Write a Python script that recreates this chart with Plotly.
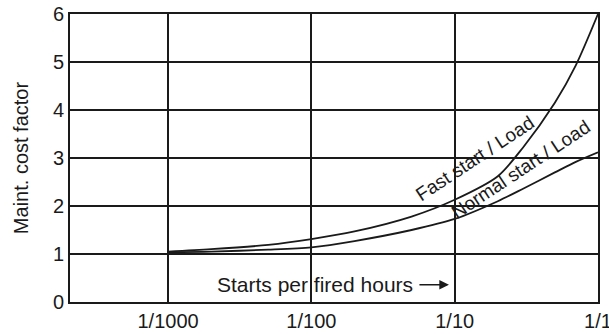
import plotly.graph_objects as go

# Data
starts_per_hour = [0.001, 0.002, 0.005, 0.01, 0.02, 0.05, 0.1, 0.2, 0.3, 0.5, 0.7, 1.0]
fast_start = [1.05, 1.10, 1.19, 1.31, 1.47, 1.78, 2.13, 2.62, 3.22, 4.15, 4.93, 6.0]
normal_start = [1.04, 1.05, 1.09, 1.14, 1.27, 1.50, 1.73, 2.10, 2.36, 2.70, 2.92, 3.12]

x_tickvals = [0.001, 0.01, 0.1, 1]
x_ticktext = ["1/1000", "1/100", "1/10", "1/1"]
y_tickvals = [0, 1, 2, 3, 4, 5, 6]

fast_label = "Fast start / Load"
normal_label = "Normal start / Load"
x_title = "Starts per fired hours"
y_title = "Maint. cost factor"

FONT = "Liberation Sans, Arial, sans-serif"
INK = "#1a1a1a"

fig = go.Figure()
fig.add_trace(go.Scatter(x=starts_per_hour, y=fast_start, mode="lines",
                         line=dict(color=INK, width=1.8, shape="spline", smoothing=0.8),
                         name=fast_label, showlegend=False))
fig.add_trace(go.Scatter(x=starts_per_hour, y=normal_start, mode="lines",
                         line=dict(color=INK, width=1.8, shape="spline", smoothing=0.8),
                         name=normal_label, showlegend=False))

fig.add_annotation(x=-0.86, y=3.0, xref="x", yref="y", text=fast_label, showarrow=False,
                   textangle=-33.5, font=dict(family=FONT, size=19, color=INK))
fig.add_annotation(x=-0.54, y=2.76, xref="x", yref="y", text=normal_label, showarrow=False,
                   textangle=-33.5, font=dict(family=FONT, size=19, color=INK))
fig.add_annotation(x=-1.28, y=0.36, xref="x", yref="y", text=x_title, showarrow=False,
                   xanchor="right", font=dict(family=FONT, size=21, color=INK))
fig.add_annotation(x=-1.04, y=0.36, xref="x", yref="y", ax=-31, ay=0, axref="pixel", ayref="pixel",
                   text="", showarrow=True, arrowhead=2, arrowsize=1.2, arrowwidth=1.6,
                   arrowcolor=INK)

fig.update_xaxes(type="log", range=[-3.684, 0], tickvals=x_tickvals, ticktext=x_ticktext,
                 showgrid=True, gridcolor=INK, gridwidth=1.6,
                 showline=True, linecolor=INK, linewidth=2, mirror=True,
                 ticks="", zeroline=False, automargin=False, ticklabeloverflow="allow",
                 tickfont=dict(family=FONT, size=20, color=INK))
fig.update_yaxes(range=[0, 6], tickvals=y_tickvals,
                 showgrid=True, gridcolor=INK, gridwidth=1.6,
                 showline=True, linecolor=INK, linewidth=2, mirror=True,
                 ticks="", zeroline=False, automargin=False, ticklabeloverflow="allow",
                 title=dict(text=y_title, font=dict(family=FONT, size=20, color=INK), standoff=19),
                 tickfont=dict(family=FONT, size=20, color=INK))

fig.update_layout(width=609, height=334, margin=dict(l=70, r=11, t=14, b=32),
                  paper_bgcolor="white", plot_bgcolor="white", showlegend=False)

fig.write_html("out.html", config={"displayModeBar": False},
               post_script="document.body.style.margin='0';document.body.style.overflow='hidden';")
